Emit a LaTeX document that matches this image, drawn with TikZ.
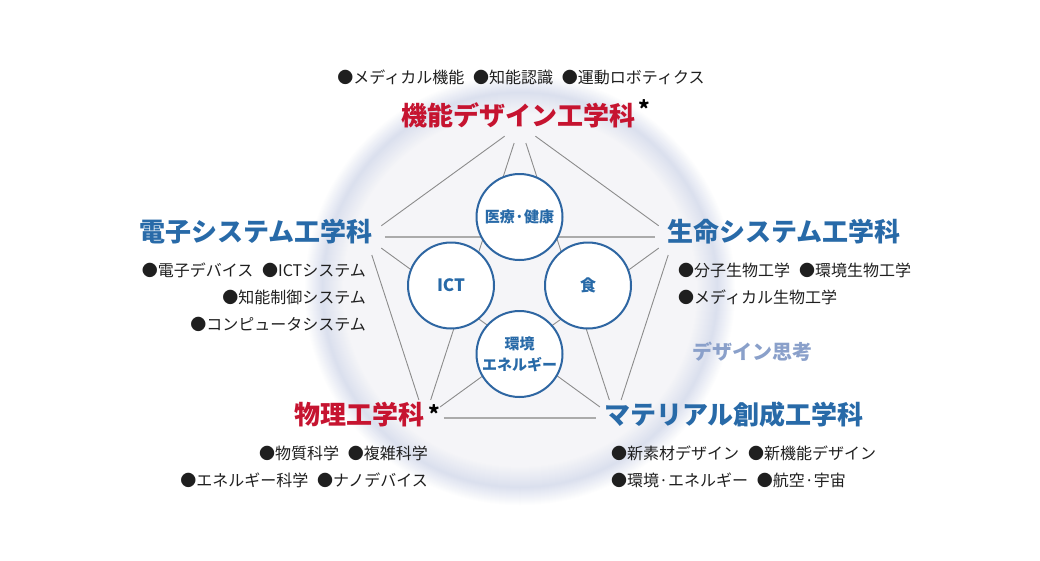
\documentclass[tikz,border=0pt]{standalone}
\usepackage{fontspec}
\setmainfont{Noto Sans CJK JP}
\usepackage{xcolor}
\usetikzlibrary{calc}
\usetikzlibrary{positioning}

\definecolor{deptRed}{RGB}{198,20,48}
\definecolor{deptBlue}{RGB}{40,106,168}
\definecolor{ringBlue}{RGB}{46,102,162}
\definecolor{linkGrey}{RGB}{140,140,140}
\definecolor{thinkBlue}{RGB}{138,160,202}
\definecolor{haloIn}{RGB}{246,246,248}
\definecolor{haloRing}{RGB}{219,224,238}

\newcommand\itemgap{\hspace{0.55em}}

\begin{document}
\begin{tikzpicture}[
  x=1pt, y=-1pt,
  dept/.style={font=\fontsize{26}{30}\selectfont\bfseries, inner sep=0pt},
  starMark/.style={font=\fontsize{22}{22}\selectfont\bfseries, inner sep=0pt, anchor=north},
  items/.style={font=\fontsize{16}{27}\selectfont, text=black!88, inner sep=0pt},
  themeCircle/.style={circle, draw=ringBlue, line width=2pt, fill=white,
    minimum size=86pt, inner sep=0pt, text=deptBlue,
    font=\fontsize{15}{21}\selectfont\bfseries, align=center},
  linkLine/.style={draw=linkGrey, line width=0.9pt, shorten <=19pt, shorten >=19pt},
  flatLine/.style={draw=black!33, line width=1.5pt, shorten <=19pt, shorten >=19pt},
]

\useasboundingbox (0,0) rectangle (1040,560);

% --- halo ---
\coordinate (halo) at (520,290);
\foreach \r in {216,215,...,199} {
  \pgfmathsetmacro\p{100*(216-\r)/18}
  \fill[haloRing!\p!white] (halo) circle[radius=\r pt];
}
\foreach \r in {198,197,...,177} {
  \pgfmathsetmacro\p{100*(\r-176)/22}
  \fill[haloRing!\p!haloIn] (halo) circle[radius=\r pt];
}

% --- pentagon and star ---
\coordinate (ctr) at (520,287);
\foreach \i/\a in {1/-90,2/-18,3/54,4/126,5/198} {
  \coordinate (v\i) at ($(ctr)+(\a:162)$);
}
\foreach \i/\j in {1/2,1/3,1/4,1/5,2/3,2/4,3/5,4/5} {
  \draw[linkLine] (v\i) -- (v\j);
}
\draw[flatLine] (v5) -- (v2);
\draw[flatLine] (v4) -- (v3);

% --- themes ---
\node[themeCircle] (iryo) at (519.5,217) {医療·健康};
\node[themeCircle, font=\fontsize{17}{21}\selectfont\bfseries] (ict) at (451,285.5) {ICT};
\node[themeCircle, font=\fontsize{16}{21}\selectfont\bfseries] (shoku) at (588,285.5) {食};
\node[themeCircle] (kankyo) at (519.5,354) {環境\\エネルギー};

% --- departments ---
\node[dept, text=deptRed] (kinou) at (518.5,115) {機能デザイン工学科};
\node[starMark] (kinouStar) at (644,99) {*};
\node[items] (kinouItems) at (521,77) {●メディカル機能\itemgap●知能認識\itemgap●運動ロボティクス};

\node[dept, text=deptBlue, anchor=east] (denshi) at (373,232) {電子システム工学科};
\node[items, anchor=east, align=right] (denshiItems) at (366,297)
  {●電子デバイス\itemgap●ICTシステム\\●知能制御システム\\●コンピュータシステム};

\node[dept, text=deptBlue, anchor=west] (seimei) at (667,232) {生命システム工学科};
\node[items, anchor=west, align=left] (seimeiItems) at (678,283.5)
  {●分子生物工学\itemgap●環境生物工学\\●メディカル生物工学};

\node[dept, text=deptRed, anchor=east] (butsuri) at (425,415) {物理工学科};
\node[starMark] (butsuriStar) at (434,404) {*};
\node[items, anchor=east, align=right] (butsuriItems) at (428,467)
  {●物質科学\itemgap●複雑科学\\●エネルギー科学\itemgap●ナノデバイス};

\node[dept, text=deptBlue, anchor=west] (material) at (604,415) {マテリアル創成工学科};
\node[items, anchor=west, align=left] (materialItems) at (611,467)
  {●新素材デザイン\itemgap●新機能デザイン\\●環境·エネルギー\itemgap●航空·宇宙};

\node[font=\fontsize{20}{24}\selectfont\bfseries, text=thinkBlue, inner sep=0pt]
  (designThinking) at (752,352) {デザイン思考};

\end{tikzpicture}
\end{document}
